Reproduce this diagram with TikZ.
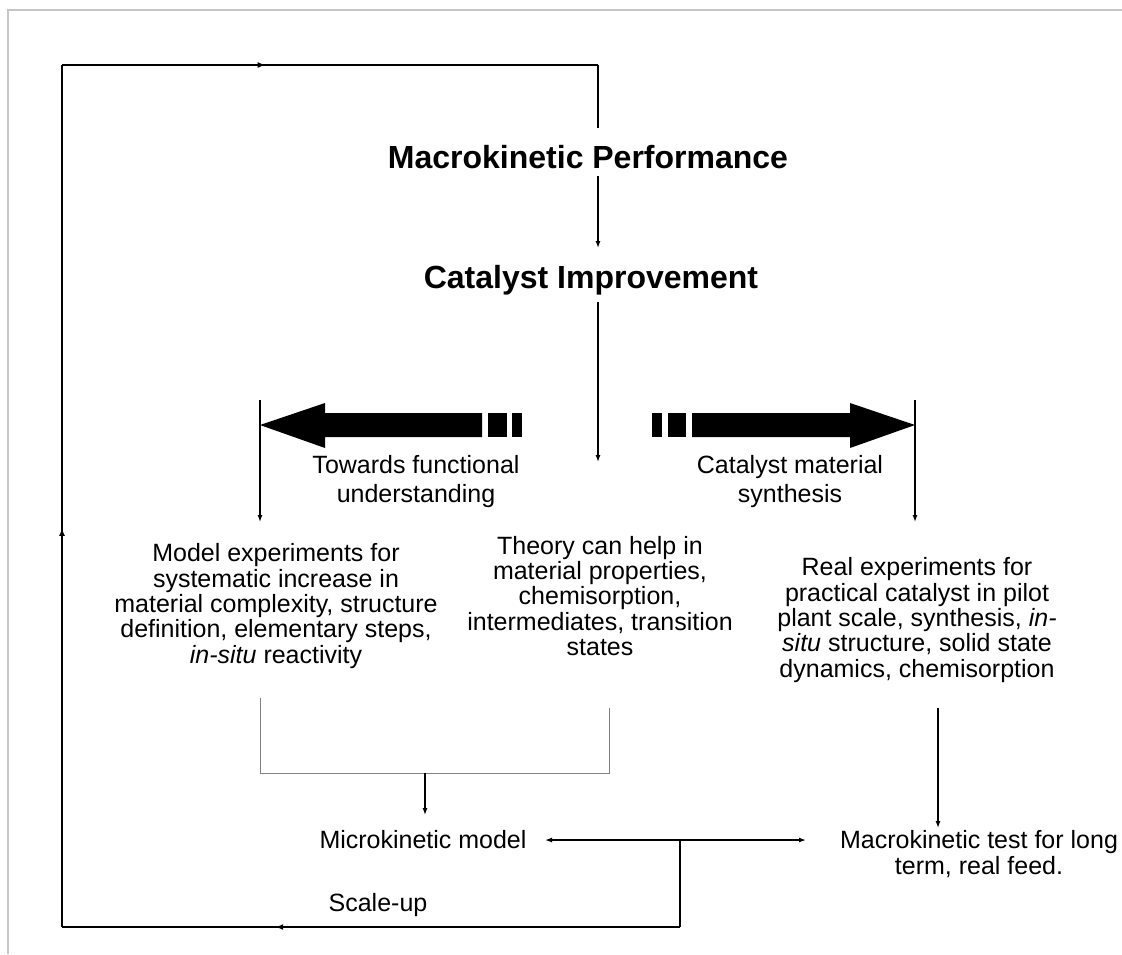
\documentclass[tikz,border=0pt]{standalone}
\usepackage{fontspec}
\setmainfont{Liberation Sans}
\usetikzlibrary{arrows.meta, decorations.markings, positioning, calc}

\tikzset{
  title/.style={font=\fontsize{32}{38}\selectfont\bfseries, inner sep=2pt},
  body/.style={font=\fontsize{25}{25.4}\selectfont, align=center, inner sep=0pt},
  label/.style={font=\fontsize{25}{29}\selectfont, align=center, inner sep=0pt},
  conn/.style={line width=1.3pt, -{Latex[length=7pt,width=5pt]}},
  loopline/.style={line width=1.8pt},
  midarrow/.style={postaction={decorate}, decoration={markings,
      mark=at position #1 with {\arrow{Latex[length=8pt,width=6pt]}}}},
  bracket/.style={gray, line width=1pt},
}

\begin{document}
\begin{tikzpicture}[x=1pt, y=-1pt]
\useasboundingbox (0,0) rectangle (1122,954);
\draw[gray!45, line width=1.2pt] (1122,10) -- (8,10) -- (8,954);

% titles
\node[title] (perf) at (588,157) {Macrokinetic Performance};
\node[title] (impr) at (591,280) {Catalyst Improvement};

% text blocks
\node[label] (towards) at (416,482) {Towards functional\\understanding};
\node[label] (synth) at (790,482) {Catalyst material\\synthesis};
\node[body] (model) at (276,606) {Model experiments for\\systematic increase in\\material complexity, structure\\definition, elementary steps,\\\textit{in-situ} reactivity};
\node[body] (theory) at (600,596) {Theory can help in\\material properties,\\chemisorption,\\intermediates, transition\\states};
\node[body] (real) at (917,620) {Real experiments for\\practical catalyst in pilot\\plant scale, synthesis, \textit{in-}\\\textit{situ} structure, solid state\\dynamics, chemisorption};
\node[label] (micro) at (423,840) {Microkinetic model};
\node[body, font=\fontsize{25}{26}\selectfont] (macro) at (979,854) {Macrokinetic test for long\\term, real feed.};
\node[label] (scale) at (378,905) {Scale-up};

% corners and free ends
\coordinate (tl) at (62,65);
\coordinate (tr) at (598,65);
\coordinate (bl) at (62,927);
\coordinate (br) at (680,927);
\coordinate (jn) at (680,840);
\coordinate (pin) at (598,128);
\coordinate (pout) at (598,176);
\coordinate (iin) at (598,248);
\coordinate (iout) at (598,302);
\coordinate (tend) at (598,462);
\coordinate (ltop) at (260,400);
\coordinate (lend) at (260,522);
\coordinate (rtop) at (915,400);
\coordinate (rend) at (915,522);
\coordinate (bkl) at (260,698);
\coordinate (bkr) at (609,708);
\coordinate (mdown) at (425,773);
\coordinate (mend) at (425,815);
\coordinate (rdown) at (938,708);
\coordinate (rend2) at (938,828);
\coordinate (dl) at (545,840);
\coordinate (dr) at (806,840);

% big arrows
\fill (260,425) -- (325,403) -- (325,413) -- (482,413) -- (482,437) -- (325,437) -- (325,448) -- cycle;
\fill (488,413) rectangle (507,437);
\fill (512,413) rectangle (522,437);
\fill (915,425) -- (850,403) -- (850,413) -- (692,413) -- (692,437) -- (850,437) -- (850,448) -- cycle;
\fill (668,413) rectangle (686,437);
\fill (652,413) rectangle (662,437);

% scale-up loop
\draw[loopline, midarrow=0.655] (br) -- (bl);
\draw[loopline, midarrow=0.463] (bl) -- (tl);
\draw[loopline, midarrow=0.38] (tl) -- (tr);
\draw[loopline] (jn) -- (br);
\draw[line width=1.3pt] (tr) -- (pin);

% connectors
\draw[conn] (pout) -- (iin);
\draw[conn] (iout) -- (tend);
\draw[conn] (ltop) -- (lend);
\draw[conn] (rtop) -- (rend);
\draw[bracket] (bkl) -- (bkl |- mdown) -- (bkr |- mdown) -- (bkr);
\draw[conn] (mdown) -- (mend);
\draw[conn] (rdown) -- (rend2);
\draw[line width=1.3pt, {Latex[length=7pt,width=5pt]}-{Latex[length=7pt,width=5pt]}] (dl) -- (dr);
\end{tikzpicture}
\end{document}
